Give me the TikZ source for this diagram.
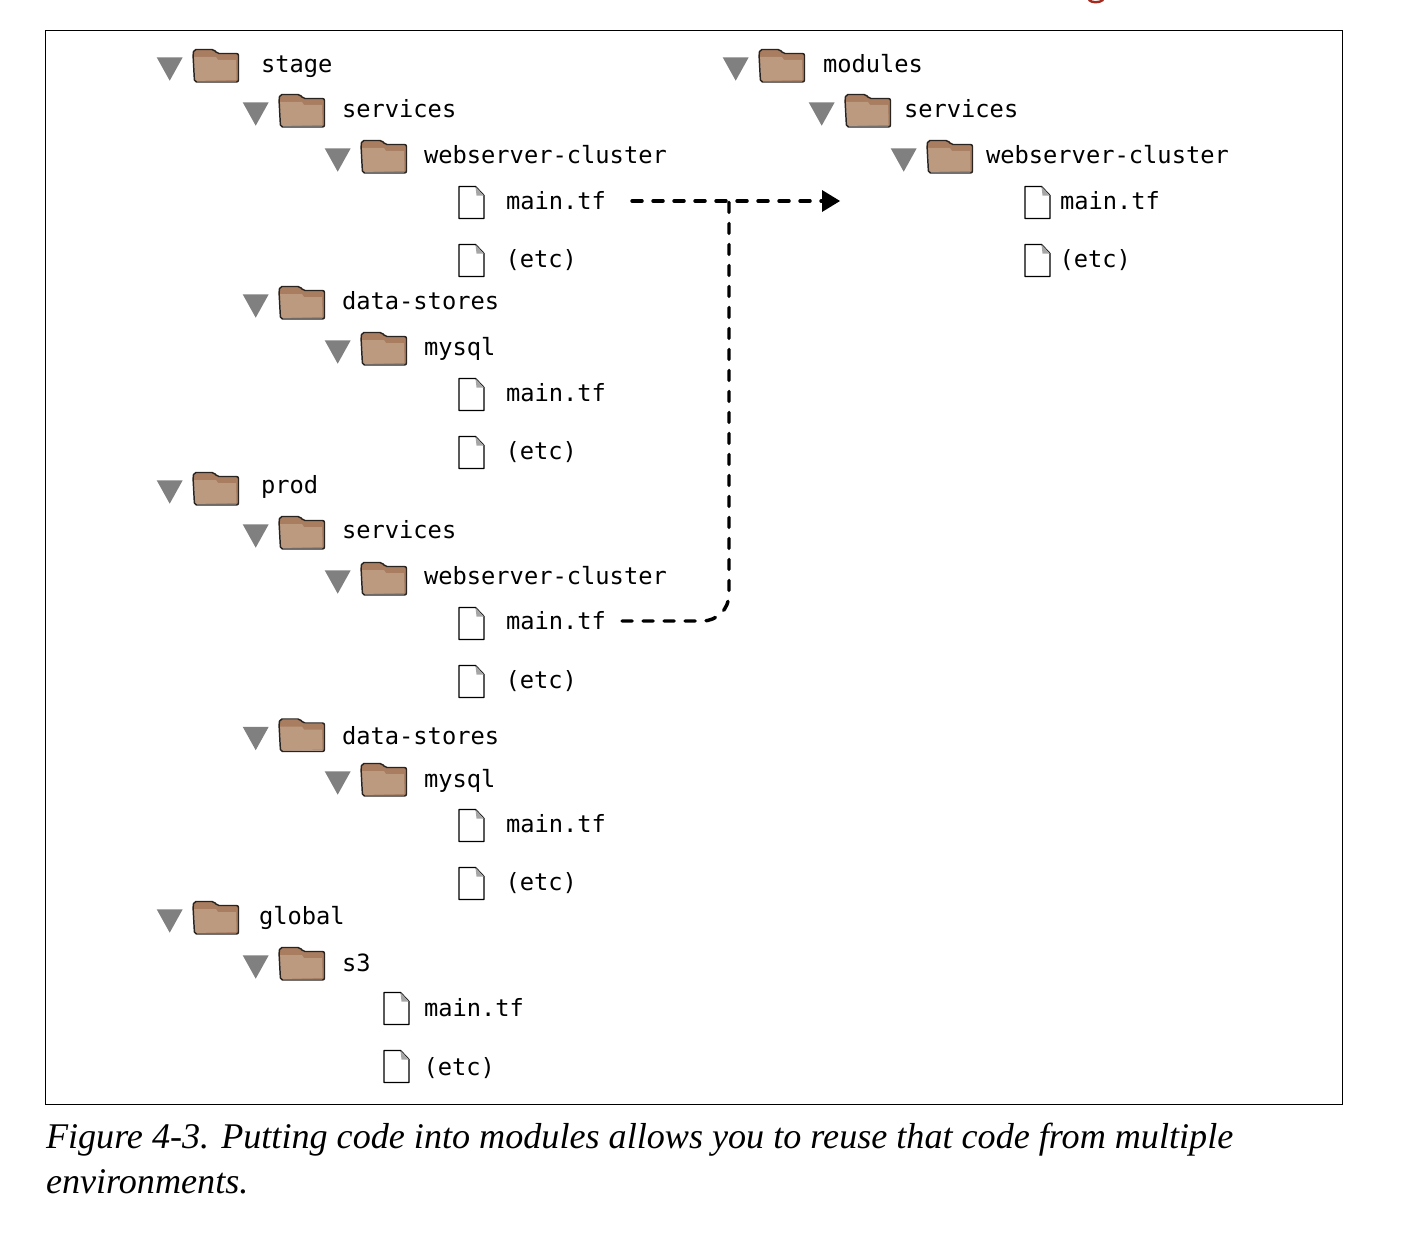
\documentclass[tikz,border=0pt]{standalone}
\usepackage{fontspec}
\setmainfont{Liberation Serif}
\setmonofont{DejaVu Sans Mono}
\usetikzlibrary{arrows.meta}
\definecolor{folderback}{HTML}{A87D60}
\definecolor{folderfront}{HTML}{BC9A80}
\definecolor{foldline}{HTML}{2A2420}
\definecolor{trigray}{HTML}{808080}
\definecolor{linkred}{HTML}{A52A1E}
\tikzset{
  x=0.75pt, y=-0.75pt,
  lab/.style={anchor=base west, inner sep=0pt, outer sep=0pt, font=\ttfamily\fontsize{17.8}{20}\selectfont, text=black},
  captext/.style={anchor=base west, inner sep=0pt, outer sep=0pt, align=left, font=\itshape\fontsize{27.1}{33.4}\selectfont, text=black},
  linkline/.style={line width=2.6pt, dash pattern=on 7.5pt off 8.25pt, line cap=round},
  folder/.pic={
    \fill[trigray] (-36.3,8.3) -- (-10.3,8.3) -- (-23.3,31.7) -- cycle;
    \fill[folderback] (1,1) -- (22,1) -- (25,5) -- (45,5) -- (45,32) -- (2,32) -- cycle;
    \fill[folderfront] (1,8) -- (23,8) -- (25,11) -- (43,11) -- (43.5,31) -- (2,32) -- cycle;
    \draw[foldline, line width=1.1pt, line join=round, rounded corners=1.5pt]
      (1.5,33) -- (0,5) -- (1,.5) -- (21,.5) -- (24,4.5) -- (45.5,4.5) -- (45.5,33) -- cycle;
  },
  filepic/.pic={
    \draw[line width=1pt, fill=white, line join=round] (0,0) -- (16.5,0) -- (25,9) -- (25,32) -- (0,32) -- cycle;
    \fill[gray!70] (16.5,0) -- (25,9) -- (17.5,9) -- cycle;
  }
}
\begin{document}
\begin{tikzpicture}
\path[use as bounding box] (0,0) rectangle (1402,1234);
\fill[white] (0,0) rectangle (1402,1234);
\draw[line width=1.1pt] (45.5,30.5) rectangle (1342.5,1104.5);
\draw[linkred, line width=1.8pt, line cap=round] (1089,0) .. controls (1092,3) and (1099,3) .. (1103,0);

% stage tree
\pic at (193,49) {folder};  \node[lab] (stage) at (261,73) {stage};
\pic at (279,94) {folder};  \node[lab] (sservices) at (342,118) {services};
\pic at (361,140) {folder}; \node[lab] (swebcluster) at (424,164) {webserver-cluster};
\pic at (459,186.5) {filepic}; \node[lab] (swebmain) at (506,209.5) {main.tf};
\pic at (459,244.5) {filepic}; \node[lab] (swebetc) at (505.5,267) {(etc)};
\pic at (279,286) {folder}; \node[lab] (sdata) at (342,309) {data-stores};
\pic at (361,332) {folder}; \node[lab] (smysql) at (424,355) {mysql};
\pic at (459,378.5) {filepic}; \node[lab] (smysqlmain) at (506,401) {main.tf};
\pic at (459,436.5) {filepic}; \node[lab] (smysqletc) at (505.5,459) {(etc)};
% prod tree
\pic at (193,472) {folder};  \node[lab] (prod) at (261,493) {prod};
\pic at (279,516) {folder};  \node[lab] (pservices) at (342,538) {services};
\pic at (361,562) {folder}; \node[lab] (pwebcluster) at (424,584) {webserver-cluster};
\pic at (459,607.5) {filepic}; \node[lab] (pwebmain) at (506,629) {main.tf};
\pic at (459,665.5) {filepic}; \node[lab] (pwebetc) at (505.5,688) {(etc)};
\pic at (279,718.5) {folder}; \node[lab] (pdata) at (342,744) {data-stores};
\pic at (361,763) {folder}; \node[lab] (pmysql) at (424,787) {mysql};
\pic at (459,809.5) {filepic}; \node[lab] (pmysqlmain) at (506,832) {main.tf};
\pic at (459,867.5) {filepic}; \node[lab] (pmysqletc) at (505.5,890) {(etc)};
% global tree
\pic at (193,901) {folder};  \node[lab] (global) at (259,924) {global};
\pic at (279,947) {folder};  \node[lab] (gs) at (342,971) {s3};
\pic at (384,992.5) {filepic}; \node[lab] (gmain) at (424,1016) {main.tf};
\pic at (384,1050.5) {filepic}; \node[lab] (getc) at (423.5,1075) {(etc)};
% modules tree
\pic at (759,49) {folder};  \node[lab] (modules) at (823,73) {modules};
\pic at (845,94) {folder};  \node[lab] (mservices) at (904,118) {services};
\pic at (927,140) {folder}; \node[lab] (mwebcluster) at (986,164) {webserver-cluster};
\pic at (1025,186.5) {filepic}; \node[lab] (mwebmain) at (1060,209.5) {main.tf};
\pic at (1025,244.5) {filepic}; \node[lab] (mwebetc) at (1059.5,267) {(etc)};

% connectors
\coordinate (junction) at (729,201);
\coordinate (tip) at (840,201);
\coordinate (tipbase) at (823,201);
\coordinate (stagefrom) at ([xshift=19.5pt]swebmain.east |- tip);
\coordinate (prodfrom) at ([xshift=12pt]pwebmain.east |- 0,621);
\draw[linkline] (stagefrom) -- (tipbase);
\fill (822,190) -- (tip) -- (822,212) -- cycle;
\draw[linkline, rounded corners=20pt] (prodfrom) -| (junction);

% caption
\node[captext] (caption) at (46,1193) {Figure 4-3. Putting code into modules allows you to reuse that code from multiple\\environments.};
\end{tikzpicture}
\end{document}
